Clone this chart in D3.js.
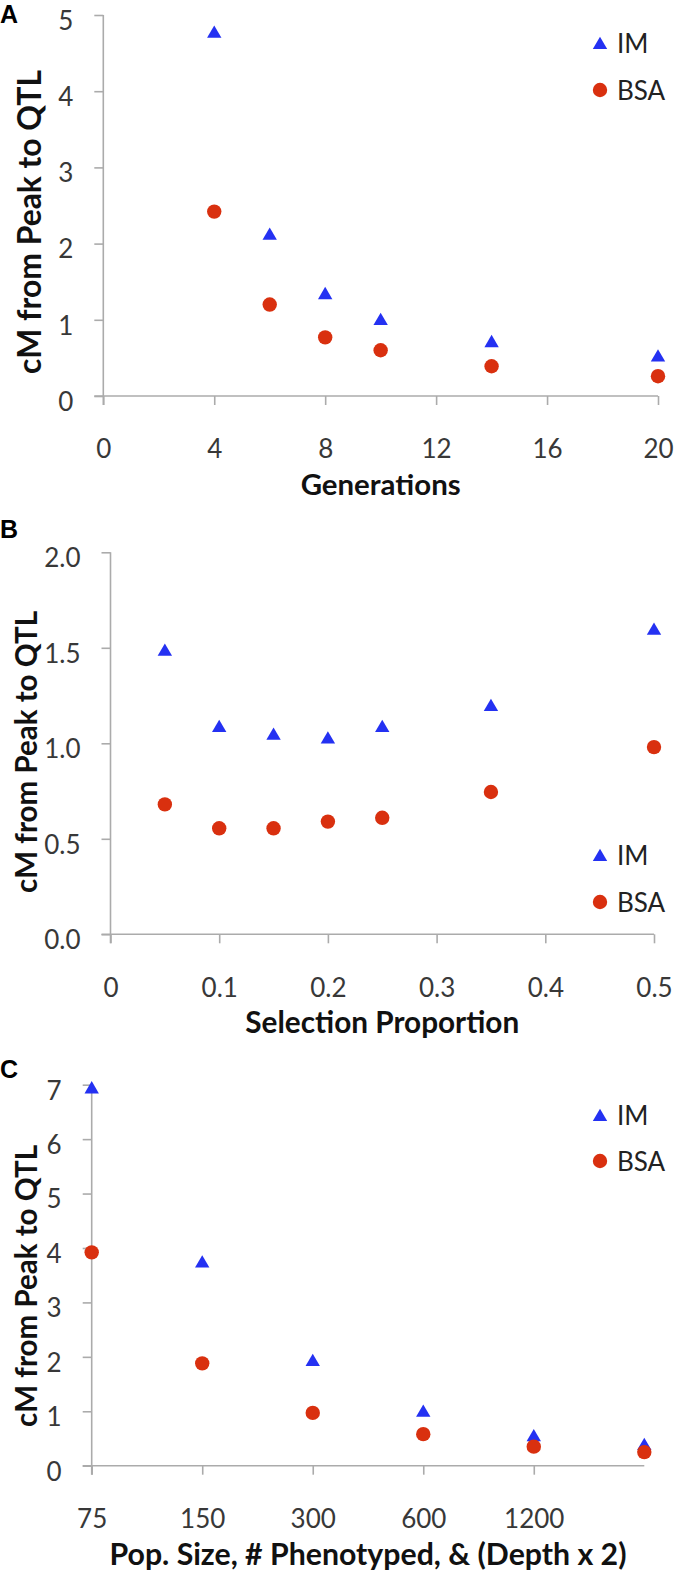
<!DOCTYPE html>
<html>
<head>
<meta charset="utf-8">
<script src="https://cdn.jsdelivr.net/npm/d3@7"></script>
<style>
  html, body { margin: 0; padding: 0; background: #fff; }
  svg { display: block; }
</style>
</head>
<body>
<svg id="chart" width="677" height="1577"></svg>
<script>
// ---------- DATA ----------
// Panel A: Generations
const generations = [4, 6, 8, 10, 14, 20];
const genIM  = [4.78, 2.13, 1.35, 1.01, 0.72, 0.53];
const genBSA = [2.42, 1.20, 0.77, 0.60, 0.39, 0.26];
const genXTicks = [0, 4, 8, 12, 16, 20];
const genYTicks = [0, 1, 2, 3, 4, 5];

// Panel B: Selection proportion
const selection = [0.05, 0.10, 0.15, 0.20, 0.25, 0.35, 0.50];
const selIM  = [1.49, 1.09, 1.05, 1.03, 1.09, 1.20, 1.60];
const selBSA = [0.68, 0.555, 0.555, 0.59, 0.61, 0.745, 0.98];
const selXTicks  = [0, 0.1, 0.2, 0.3, 0.4, 0.5];
const selXLabels = ["0", "0.1", "0.2", "0.3", "0.4", "0.5"];
const selYTicks  = [0, 0.5, 1.0, 1.5, 2.0];
const selYLabels = ["0.0", "0.5", "1.0", "1.5", "2.0"];

// Panel C: Population size
const popSize = ["75", "150", "300", "600", "1200", "2400"];
const popIM  = [6.95, 3.75, 1.94, 1.01, 0.56, 0.40];
const popBSA = [3.92, 1.88, 0.97, 0.58, 0.35, 0.25];
const popXTicks  = ["75", "150", "300", "600", "1200"];
const popYTicks  = [0, 1, 2, 3, 4, 5, 6, 7];

const seriesNames = ["IM", "BSA"];
const yTitle = "cM from Peak to QTL";

// ---------- STYLE ----------
const BLUE = "#2431f2";
const RED  = "#d9300f";
const AXIS = "#ababab";
const TICKTXT = "#383838";
const FONT = "Lato, 'Open Sans', sans-serif";
const TICKFS = 26;

const svg = d3.select("#chart");
svg.append("rect").attr("width", 677).attr("height", 1577).attr("fill", "#fff");

function fitText(sel, target) {
  const base = parseFloat(sel.attr("font-size"));
  const len = sel.node().getComputedTextLength();
  if (len > 0) sel.attr("font-size", (base * target / len).toFixed(2));
}

const triPath = "M0,-6.3L7.2,6L-7.2,6Z";

function drawPanel(o) {
  const g = svg.append("g");
  const x = o.x, y = o.y;
  const x0 = o.xRange[0], x1 = o.xRange[1];
  const yB = o.yRange[0], yT = o.yRange[1];
  const tick = 9;

  // axis lines
  g.append("line").attr("x1", x0 - tick).attr("x2", x1).attr("y1", yB).attr("y2", yB)
    .attr("stroke", AXIS).attr("stroke-width", 1.6);
  g.append("line").attr("x1", x0).attr("x2", x0).attr("y1", yT).attr("y2", yB + tick)
    .attr("stroke", AXIS).attr("stroke-width", 1.6);

  // y axis via d3
  const ya = d3.axisLeft(y).tickValues(o.yTicks).tickSize(tick).tickPadding(21)
    .tickFormat((d, i) => o.yLabels ? o.yLabels[i] : String(d));
  const gy = g.append("g").attr("transform", `translate(${x0},0)`).call(ya);
  gy.select(".domain").remove();
  gy.selectAll(".tick line").attr("stroke", AXIS).attr("stroke-width", 1.6);
  gy.selectAll(".tick text").attr("font-family", FONT).attr("font-size", TICKFS)
    .attr("fill", TICKTXT).attr("y", 6);

  // x axis via d3
  const xa = d3.axisBottom(x).tickValues(o.xTicks).tickSize(tick).tickPadding(35)
    .tickFormat((d, i) => o.xLabels ? o.xLabels[i] : String(d));
  const gx = g.append("g").attr("transform", `translate(0,${yB})`).call(xa);
  gx.select(".domain").remove();
  gx.selectAll(".tick line").attr("stroke", AXIS).attr("stroke-width", 1.6);
  gx.selectAll(".tick text").attr("font-family", FONT).attr("font-size", TICKFS)
    .attr("fill", TICKTXT);

  // markers: IM then BSA
  const pts = o.cats.map((c, i) => ({c, im: o.im[i], bsa: o.bsa[i]}));
  g.append("g").selectAll("path").data(pts).join("path")
    .attr("d", triPath)
    .attr("transform", d => `translate(${x(d.c)},${y(d.im)})`)
    .attr("fill", BLUE);
  g.append("g").selectAll("circle").data(pts).join("circle")
    .attr("cx", d => x(d.c)).attr("cy", d => y(d.bsa)).attr("r", 7.2)
    .attr("fill", RED);

  // legend
  const lg = g.append("g");
  const ly = o.legendY;
  lg.append("path").attr("d", triPath).attr("transform", `translate(600,${ly[0]})`).attr("fill", BLUE);
  lg.append("circle").attr("cx", 600).attr("cy", ly[1]).attr("r", 7.2).attr("fill", RED);
  seriesNames.forEach((s, i) => {
    lg.append("text").attr("x", 617).attr("y", ly[i] + 9.5)
      .attr("font-family", FONT).attr("font-size", TICKFS).attr("fill", "#222").text(s);
  });

  // y title
  const yt = g.append("text")
    .attr("transform", `translate(${o.yTitleX},${o.yTitleY}) rotate(-90)`)
    .attr("text-anchor", "middle").attr("font-family", FONT).attr("font-weight", 700)
    .attr("font-size", 27).attr("fill", "#111").text(yTitle);
  fitText(yt, o.yTitleLen);

  // x title
  const xt = g.append("text")
    .attr("x", (x0 + x1) / 2).attr("y", yB + 99)
    .attr("text-anchor", "middle").attr("font-family", FONT).attr("font-weight", 700)
    .attr("font-size", 28).attr("fill", "#111").text(o.xTitle);
  fitText(xt, o.xTitleLen);

  // panel letter
  g.append("text").attr("x", 0).attr("y", o.letterY)
    .attr("font-family", "'Liberation Sans', Arial, sans-serif").attr("font-weight", 700)
    .attr("font-size", 25).attr("fill", "#000").text(o.letter);
}

// Panel A
drawPanel({
  letter: "A", letterY: 23,
  x: d3.scaleLinear().domain([0, 20]).range([103.3, 658]),
  y: d3.scaleLinear().domain([0, 5]).range([396, 15]),
  xRange: [103.3, 658], yRange: [396, 15],
  xTicks: genXTicks, yTicks: genYTicks,
  cats: generations, im: genIM, bsa: genBSA,
  legendY: [43, 90],
  xTitle: "Generations", xTitleLen: 160,
  yTitleX: 41, yTitleY: 222, yTitleLen: 304
});

// Panel B
drawPanel({
  letter: "B", letterY: 538,
  x: d3.scaleLinear().domain([0, 0.5]).range([110.5, 654]),
  y: d3.scaleLinear().domain([0, 2]).range([934.3, 552.3]),
  xRange: [110.5, 654], yRange: [934.3, 552.3],
  xTicks: selXTicks, xLabels: selXLabels, yTicks: selYTicks, yLabels: selYLabels,
  cats: selection, im: selIM, bsa: selBSA,
  legendY: [855, 902],
  xTitle: "Selection Proportion", xTitleLen: 274,
  yTitleX: 37, yTitleY: 752, yTitleLen: 282
});

// Panel C
drawPanel({
  letter: "C", letterY: 1078,
  x: d3.scalePoint().domain(popSize).range([91.7, 644.3]).padding(0),
  y: d3.scaleLinear().domain([0, 7]).range([1465.7, 1084.7]),
  xRange: [91.7, 644.3], yRange: [1465.7, 1084.7],
  xTicks: popXTicks, yTicks: popYTicks,
  cats: popSize, im: popIM, bsa: popBSA,
  legendY: [1115, 1161],
  xTitle: "Pop. Size, # Phenotyped, & (Depth x 2)", xTitleLen: 517,
  yTitleX: 37, yTitleY: 1286, yTitleLen: 282
});
</script>
</body>
</html>
